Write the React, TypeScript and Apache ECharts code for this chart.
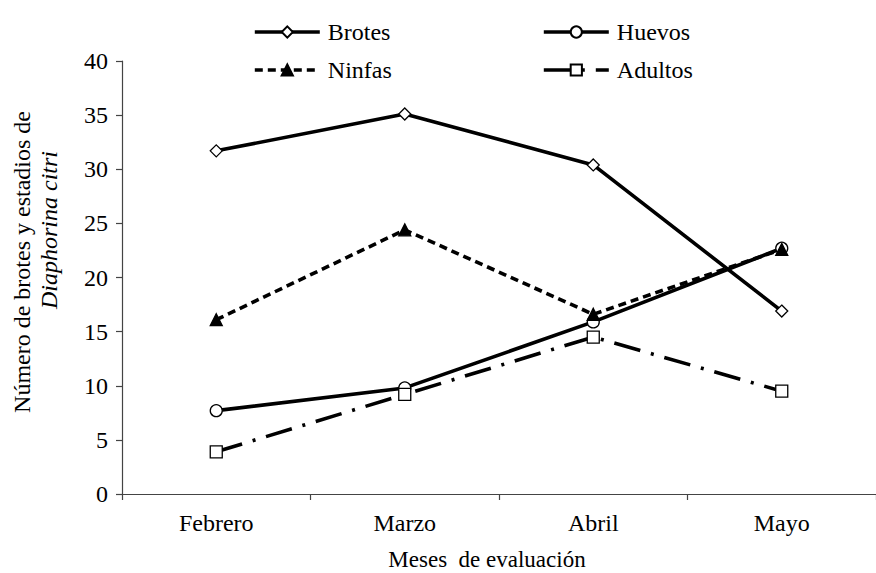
import React, { useEffect, useRef } from "react";
import * as echarts from "echarts";

const months = ["Febrero", "Marzo", "Abril", "Mayo"];
const brotes = [31.7, 35.1, 30.4, 16.9];
const huevos = [7.7, 9.8, 15.9, 22.7];
const ninfas = [16.1, 24.4, 16.6, 22.6];
const adultos = [3.9, 9.2, 14.5, 9.5];
const yTicks = { min: 0, max: 40, interval: 5 };

const FONT = "Liberation Serif";

export default function App() {
  const ref = useRef<HTMLDivElement>(null);
  useEffect(() => {
    if (!ref.current) return;
    const chart = echarts.init(ref.current, null, { renderer: "svg" });
    const lineBase = (name: string, data: number[], symbol: string, dash: any, fill: string) => ({
      name,
      type: "line",
      data,
      symbol,
      symbolSize: 12,
      showSymbol: true,
      lineStyle: { color: "#000", width: 3.6, type: dash, cap: "butt" },
      itemStyle: { color: fill, borderColor: "#000", borderWidth: 1.3 },
      z: 2,
    });
    const legendCommon = {
      orient: "horizontal",
      padding: 0,
      itemWidth: 65,
      itemHeight: 14,
      itemGap: 8,
      lineStyle: { width: 3.6 },
      textStyle: { fontFamily: FONT, fontSize: 24, color: "#000", padding: [0, 0, 0, 3] },
    };
    chart.setOption({
      animation: false,
      backgroundColor: "#fff",
      textStyle: { fontFamily: FONT },
      legend: [
        { ...legendCommon, data: ["Brotes"], left: 253, top: 20 },
        { ...legendCommon, data: ["Huevos"], left: 542, top: 20 },
        { ...legendCommon, data: ["Ninfas"], left: 253, top: 58 },
        { ...legendCommon, data: ["Adultos"], left: 542, top: 58 },
      ],
      grid: { left: 122, right: -8, top: 61, bottom: 79 },
      xAxis: {
        type: "category",
        data: months,
        boundaryGap: true,
        axisLine: { show: true, lineStyle: { color: "#444", width: 1.2 } },
        axisTick: { show: true, length: 6, alignWithLabel: false, lineStyle: { color: "#444", width: 1.2 } },
        axisLabel: { fontFamily: FONT, fontSize: 24, color: "#000", margin: 17 },
        splitLine: { show: false },
      },
      yAxis: {
        type: "value",
        min: yTicks.min,
        max: yTicks.max,
        interval: yTicks.interval,
        axisLine: { show: true, lineStyle: { color: "#444", width: 1.2 } },
        axisTick: { show: true, length: 6, inside: false, lineStyle: { color: "#444", width: 1.2 } },
        axisLabel: { fontFamily: FONT, fontSize: 24, color: "#000", margin: 14 },
        splitLine: { show: false },
      },
      graphic: [
        {
          type: "text",
          x: 22,
          y: 262,
          rotation: Math.PI / 2,
          style: {
            text: "Número de brotes y estadios de",
            fontFamily: FONT,
            fontSize: 24,
            fill: "#000",
            align: "center",
            verticalAlign: "middle",
          },
        },
        {
          type: "text",
          x: 49,
          y: 230,
          rotation: Math.PI / 2,
          style: {
            text: "Diaphorina citri",
            fontFamily: FONT,
            fontSize: 24,
            fontStyle: "italic",
            fill: "#000",
            align: "center",
            verticalAlign: "middle",
          },
        },
        {
          type: "text",
          x: 487,
          y: 559,
          style: {
            text: "Meses  de evaluación",
            fontFamily: FONT,
            fontSize: 23,
            fill: "#000",
            align: "center",
            verticalAlign: "middle",
          },
        },
      ],
      series: [
        lineBase("Brotes", brotes, "diamond", "solid", "#fff"),
        lineBase("Huevos", huevos, "circle", "solid", "#fff"),
        lineBase("Ninfas", ninfas, "triangle", [8, 5], "#000"),
        lineBase("Adultos", adultos, "rect", [27, 11, 3, 11], "#fff"),
      ],
    });
    return () => chart.dispose();
  }, []);
  return (
    <div
      ref={ref}
      style={{ position: "absolute", left: 0, top: 0, width: 876, height: 573, background: "#fff" }}
    />
  );
}
